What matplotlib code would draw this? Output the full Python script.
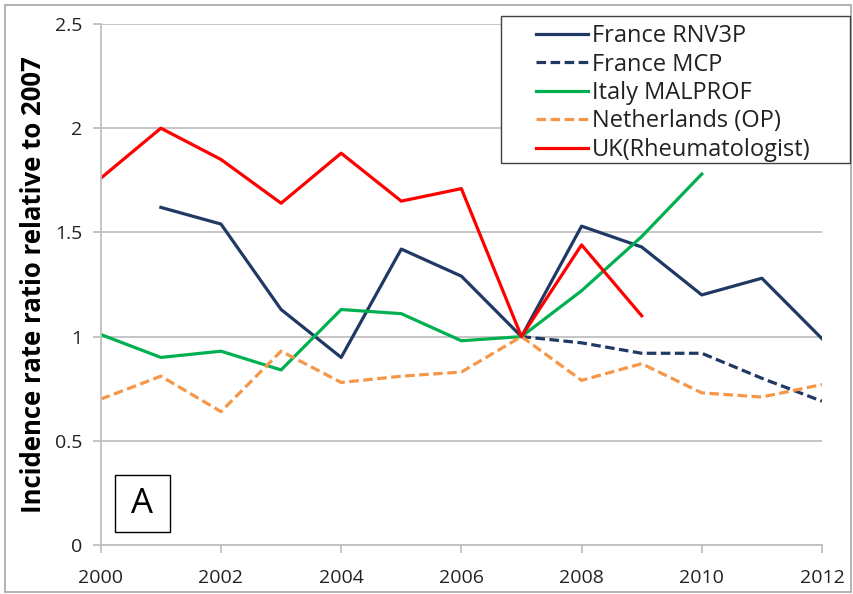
import numpy as np
import matplotlib
matplotlib.use('Agg')
import matplotlib.pyplot as plt
from matplotlib.patches import Rectangle

# values (ratio relative to 2007)
years = np.arange(2000, 2013)

france_rnv3p_years = np.arange(2001, 2013)
france_rnv3p = [1.62, 1.54, 1.13, 0.90, 1.42, 1.29, 1.00, 1.53, 1.43, 1.20, 1.28, 0.99]

france_mcp_years = np.arange(2007, 2013)
france_mcp = [1.00, 0.97, 0.92, 0.92, 0.80, 0.69]

italy_years = np.arange(2000, 2011)
italy_malprof = [1.01, 0.90, 0.93, 0.84, 1.13, 1.11, 0.98, 1.00, 1.22, 1.48, 1.78]

netherlands = [0.70, 0.81, 0.64, 0.93, 0.78, 0.81, 0.83, 1.00, 0.79, 0.87, 0.73, 0.71, 0.77]

uk_years = np.arange(2000, 2010)
uk_rheum = [1.76, 2.00, 1.85, 1.64, 1.88, 1.65, 1.71, 1.00, 1.44, 1.10]

xticks = [2000, 2002, 2004, 2006, 2008, 2010, 2012]
yticks = [0, 0.5, 1, 1.5, 2, 2.5]
ytick_labels = ['0', '0.5', '1', '1.5', '2', '2.5']

font = ['Open Sans', 'DejaVu Sans']
dash = (0, (3, 1.4))

fig = plt.figure(figsize=(8.54, 5.94), dpi=100)
ax = fig.add_axes([0.118, 0.0825, 0.8445, 0.8771])

ax.plot(france_rnv3p_years, france_rnv3p, color='#1F3864', lw=2.3, label='France RNV3P')
ax.plot(france_mcp_years, france_mcp, color='#1F3864', lw=2.3, ls=dash, label='France MCP')
ax.plot(italy_years, italy_malprof, color='#00B050', lw=2.3, label='Italy MALPROF')
ax.plot(years, netherlands, color='#F79646', lw=2.3, ls=dash, label='Netherlands (OP)')
ax.plot(uk_years, uk_rheum, color='#FF0000', lw=2.3, label='UK(Rheumatologist)')

ax.set_xlim(2000, 2012)
ax.set_ylim(0, 2.5)
ax.set_xticks(xticks)
ax.set_yticks(yticks)
ax.set_yticklabels(ytick_labels)
ax.grid(axis='y', color='#C0C0C0', lw=1.3)
ax.set_axisbelow(True)

for s in ['top', 'right']:
    ax.spines[s].set_visible(False)
for s in ['left', 'bottom']:
    ax.spines[s].set_color('#C0C0C0')
    ax.spines[s].set_linewidth(1.3)
ax.tick_params(axis='both', colors='#C0C0C0', length=5.5, width=1.3, labelcolor='black', labelsize=14)
ax.tick_params(axis='x', pad=12)
ax.tick_params(axis='y', pad=8)
for lab in ax.get_xticklabels() + ax.get_yticklabels():
    lab.set_family(font)
    lab.set_color('#222222')

ax.set_ylabel('Incidence rate ratio relative to 2007', fontsize=18.5, fontweight='bold', family=font)
ax.yaxis.set_label_coords(-0.074, 0.5)

leg = fig.legend(*ax.get_legend_handles_labels(), loc='upper left', bbox_to_anchor=(0.628, 0.959),
                 frameon=False, handlelength=2.2, handletextpad=0.15, borderpad=0.0,
                 labelspacing=0.185, borderaxespad=0.0, prop={'family': font, 'size': 17})
for t in leg.get_texts():
    t.set_color('#222222')
# legend frame drawn on its own, it has a wide left margin in the reference
fig.patches.append(Rectangle((501 / 854, 1 - 163 / 594), 349 / 854, 147 / 594,
                             transform=fig.transFigure, fc='white', ec='#404040', lw=1.0, zorder=4))
leg.set_zorder(5)

# boxed panel letter
ax.add_patch(Rectangle((2000.233, 0.062), 0.915, 0.274, fc='white', ec='black', lw=1.0, zorder=6))
ax.text(2000.69, 0.199, 'A', fontsize=25, ha='center', va='center', family=font, zorder=7)

# outer frame around the whole picture
fig.patches.append(Rectangle((0.006, 0.004), 0.991, 0.988, transform=fig.transFigure,
                             fill=False, ec='#A6A6A6', lw=1.2))

fig.savefig('out.png', dpi=100)
